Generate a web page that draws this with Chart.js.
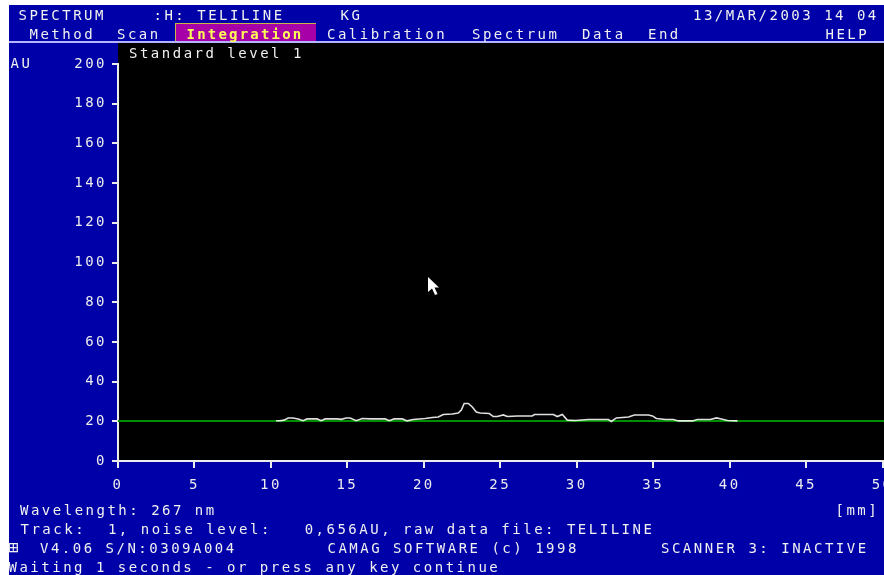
<!DOCTYPE html>
<html>
<head>
<meta charset="utf-8">
<script src="https://cdn.jsdelivr.net/npm/chart.js@4.4.1/dist/chart.umd.min.js"></script>
<style>
  html, body { margin: 0; padding: 0; background: #ffffff; overflow: hidden; width: 884px; height: 575px; }
  #screen { position: absolute; left: 9px; top: 5px; width: 875px; height: 570px; background: #0000a8; }
  #menuRule { position: absolute; left: 9px; top: 41px; width: 875px; height: 2px; background: #b4b4ff; }
  #active { position: absolute; left: 175px; top: 23px; width: 141px; height: 18px; background: #a800a8;
            border-left: 1px solid #c8b848; border-top: 1px solid #c8b848; box-sizing: border-box; }
  #plot { position: absolute; left: 0; top: 0; }
  .t { position: absolute; font-family: "DejaVu Sans Mono", monospace; font-size: 14px; line-height: 16px;
       letter-spacing: 2.5px; white-space: pre; color: #f0f0f0; }
  .hl { color: #ffff55; font-weight: bold; letter-spacing: 2.2px; }
  .box { font-size: 17px; letter-spacing: 0; }
  #cursor { position: absolute; left: 428px; top: 277px; }
</style>
</head>
<body>
<div id="screen"></div>
<div id="active"></div>
<div id="menuRule"></div>
<canvas id="plot" width="900" height="575"></canvas>
<svg id="cursor" width="14" height="20" viewBox="0 0 14 20">
  <polygon points="0,0 0,15 4,11.5 7,18 9.5,17 6.5,10.5 11,10.5" fill="#ffffff"/>
</svg>
<div id="texts"></div>
<script>
// Densitogram of track 1: scan position (mm) and signal (AU)
const positions = [10.34, 10.60, 10.86, 11.13, 11.45, 11.78, 12.10, 12.37, 13.02, 13.29,
  13.55, 14.33, 14.60, 14.92, 15.18, 15.58, 15.97, 16.49, 17.47, 17.74,
  18.06, 18.59, 18.91, 19.31, 20.09, 20.55, 20.94, 21.27, 21.86, 22.25,
  22.45, 22.64, 22.91, 23.17, 23.43, 23.69, 24.28, 24.54, 24.80, 25.20,
  25.46, 26.11, 27.09, 27.23, 27.42, 28.47, 28.73, 29.06, 29.38, 29.91,
  30.76, 32.07, 32.26, 32.59, 33.38, 33.77, 34.69, 34.95, 35.21, 35.80,
  36.32, 36.65, 37.57, 37.89, 38.74, 39.14, 39.46, 39.86, 40.51];
const signal = [20.3, 20.3, 20.6, 21.7, 21.7, 21.2, 20.3, 21.2, 21.2, 20.3,
  21.2, 21.2, 21.0, 21.7, 21.7, 20.3, 21.4, 21.2, 21.2, 20.3,
  21.2, 21.2, 20.2, 20.9, 21.4, 21.9, 22.2, 23.4, 23.7, 24.2,
  25.7, 29.0, 29.0, 27.2, 24.7, 24.2, 23.9, 22.4, 22.4, 23.2,
  22.4, 22.7, 22.7, 23.4, 23.4, 23.4, 22.4, 23.4, 20.6, 20.4,
  20.9, 20.9, 19.9, 21.7, 22.2, 23.2, 23.2, 22.7, 21.4, 20.9,
  20.9, 20.2, 20.2, 20.9, 20.9, 21.7, 21.2, 20.4, 20.2];

// Integration baseline
const baselineX = [0, 50.13];
const baselineY = [20.2, 20.2];

// Axis ticks
const xTicks = [0, 5, 10, 15, 20, 25, 30, 35, 40, 45, 50];
const yTicks = [0, 20, 40, 60, 80, 100, 120, 140, 160, 180, 200];

const FONT = "DejaVu Sans Mono";
const INK = "#ececec";

// Black plotting field behind the axes and curves
const fieldPlugin = {
  id: 'field',
  beforeDraw(chart) {
    const { ctx, chartArea } = chart;
    ctx.save();
    ctx.fillStyle = '#000000';
    const top = chartArea.top - 21;
    ctx.fillRect(chartArea.left, top, chart.width - chartArea.left, chartArea.bottom - top);
    ctx.restore();
    ctx.letterSpacing = '2.5px';
  }
};

new Chart(document.getElementById('plot'), {
  type: 'line',
  data: {
    datasets: [
      {
        label: 'Track 1',
        data: positions.map((x, i) => ({ x, y: signal[i] })),
        borderColor: 'rgba(255,255,255,0.88)',
        borderWidth: 1.6,
        pointRadius: 0,
        tension: 0
      },
      {
        label: 'Baseline',
        data: baselineX.map((x, i) => ({ x, y: baselineY[i] })),
        borderColor: '#008c00',
        borderWidth: 2,
        pointRadius: 0,
        tension: 0
      }
    ]
  },
  options: {
    responsive: false,
    animation: false,
    devicePixelRatio: 1,
    layout: { autoPadding: false, padding: { left: 0, top: 64, right: 0, bottom: 0 } },
    plugins: { legend: { display: false }, tooltip: { enabled: false } },
    scales: {
      x: {
        type: 'linear', min: 0, max: 50.13,
        afterBuildTicks: s => { s.ticks = xTicks.map(v => ({ value: v })); },
        afterFit: s => { s.height = 114; },
        grid: { drawOnChartArea: false, drawTicks: true, tickLength: 7, color: INK, lineWidth: 2 },
        border: { display: true, color: INK, width: 2 },
        ticks: { color: INK, font: { family: FONT, size: 14 }, padding: 9, maxRotation: 0, autoSkip: false }
      },
      y: {
        type: 'linear', min: 0, max: 200,
        afterBuildTicks: s => { s.ticks = yTicks.map(v => ({ value: v })); },
        afterFit: s => { s.width = 118; },
        grid: { drawOnChartArea: false, drawTicks: true, tickLength: 6, color: INK, lineWidth: 2 },
        border: { display: true, color: INK, width: 2 },
        ticks: { color: INK, font: { family: FONT, size: 14 }, padding: 5 }
      }
    }
  },
  plugins: [fieldPlugin]
});

// Screen text: [text, left, vertical centre, class]
const screenText = [
  ['SPECTRUM', 18.5, 15],
  [':H: TELILINE', 153.5, 15],
  ['KG', 340.5, 15],
  ['13/MAR/2003 14 04', 693, 15],
  ['Method', 29.5, 34],
  ['Scan', 117, 34],
  ['Integration', 186.5, 34, 'hl'],
  ['Calibration', 327, 34],
  ['Spectrum', 472, 34],
  ['Data', 582, 34],
  ['End', 648, 34],
  ['HELP', 825.5, 34],
  ['Standard level 1', 129, 53],
  ['AU', 10.5, 63],
  ['Wavelength: 267 nm', 20, 510],
  ['[mm]', 835.5, 510],
  ['Track:  1, noise level:   0,656AU, raw data file: TELILINE', 20.5, 529],
  ['\u229E', 8, 547, 'box'],
  ['V4.06 S/N:0309A004', 40, 548],
  ['CAMAG SOFTWARE (c) 1998', 327.5, 548],
  ['SCANNER 3: INACTIVE', 661, 548],
  ['Waiting 1 seconds - or press any key continue', 8.5, 567]
];
const holder = document.getElementById('texts');
screenText.forEach(([s, x, yc, cls]) => {
  const d = document.createElement('div');
  d.className = 't' + (cls ? ' ' + cls : '');
  d.textContent = s;
  d.style.left = x + 'px';
  d.style.top = (yc - 8) + 'px';
  holder.appendChild(d);
});
</script>
</body>
</html>
